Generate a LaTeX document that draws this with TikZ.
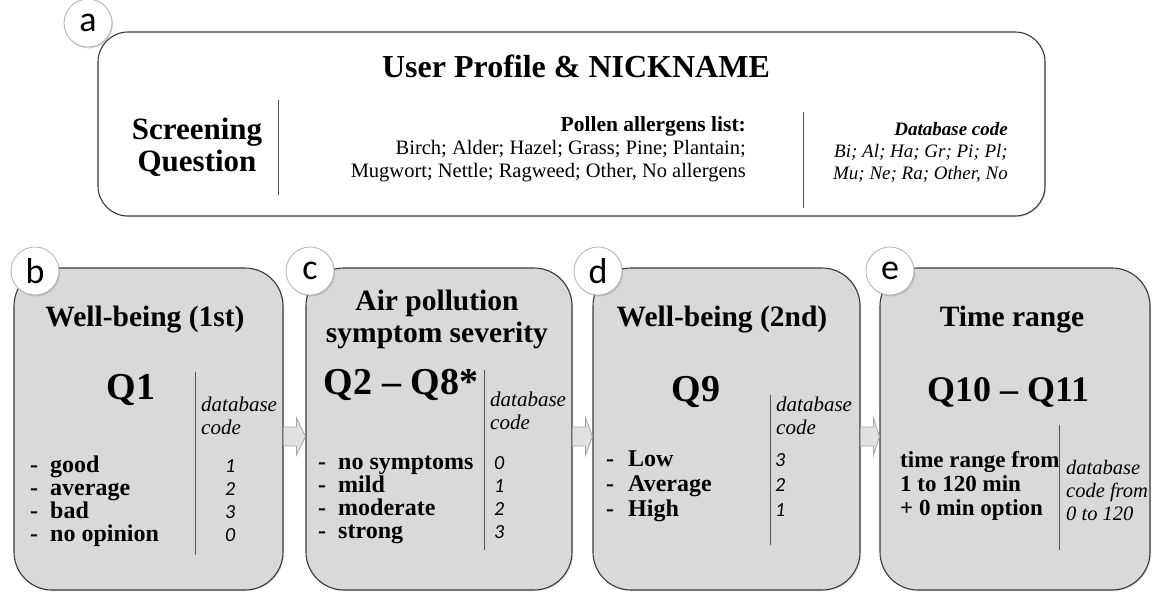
\documentclass[tikz,border=0pt]{standalone}
\usepackage{fontspec}
\setmainfont{Liberation Serif}
\newfontfamily\sansit{Carlito}
\usetikzlibrary{shadows,calc}

\definecolor{grigio}{HTML}{D9D9D9}
\definecolor{bordo}{HTML}{3A3A3A}
\definecolor{bordofr}{HTML}{A5A5A5}
\definecolor{linea}{HTML}{555555}

\newcommand{\fs}[2]{\fontsize{#1}{#2}\selectfont}

\tikzset{
  riquadro/.style={draw=bordo, line width=1.1pt, rounded corners=#1, inner sep=0pt,
    drop shadow={opacity=0.25, shadow xshift=1.2pt, shadow yshift=-1.2pt}},
  cerchio/.style={circle, draw=gray!60, line width=0.8pt, fill=white, minimum size=48pt,
    inner sep=0pt, font=\sansit\fs{36}{36},
    drop shadow={opacity=0.3, shadow xshift=1pt, shadow yshift=-1.5pt}},
  freccia/.style={draw=bordofr, fill=grigio!80, line width=0.8pt, line join=miter},
  sep/.style={draw=linea, line width=1pt},
  titbox/.style={font=\bfseries\fs{29.5}{33}, inner sep=0pt, align=center},
  qbox/.style={font=\bfseries\fs{38}{40}, inner sep=0pt},
  dbbox/.style={font=\itshape\fs{21}{22.5}, align=left, anchor=west, inner sep=0pt},
  voce/.style={font=\bfseries\fs{24}{24}, anchor=base west, inner sep=0pt},
  codice/.style={font=\sansit\itshape\fs{20}{23}, anchor=base west, inner sep=0pt}
}

\begin{document}
\begin{tikzpicture}[x=1pt, y=-1pt]
  \useasboundingbox (0,0) rectangle (1152,592);
  %riquadri
  \node[riquadro=30pt, fill=white, minimum width=947pt, minimum height=184pt] (boxa) at (571.5,124) {};
  \foreach \n/\cx/\w in {b/148.5/269, c/439/266, d/726.5/267, e/1015/270}
    \node[riquadro=38pt, fill=grigio, minimum width=\w pt, minimum height=322pt] (box\n) at (\cx,429) {};
  %cerchi
  \node[cerchio] (ta) at (88,23) {a};
  \node[cerchio] (tb) at (35,271) {b};
  \node[cerchio] (tc) at (310,271) {c};
  \node[cerchio] (td) at (598,271) {d};
  \node[cerchio] (te) at (890,271) {e};
  %frecce
  \foreach \a/\b in {b/c, c/d, d/e} {
    \coordinate (t\a) at ($(box\a.east)+(0,7.5)$);
    \draw[freccia] (t\a) ++(0,-9.5) -- ++(13,0) -- ++(0,-9) -- (t\a -| box\b.west)
      -- ($(t\a)+(13,18.5)$) -- ($(t\a)+(13,9.5)$) -- ($(t\a)+(0,9.5)$) -- cycle;
  }
  %profilo
  \node[font=\bfseries\fs{32}{36}] (titolo) at (576,66) {User Profile \& NICKNAME};
  \node[font=\bfseries\fs{31}{32}, align=center] (screen) at (197,147) {Screening\\Question};
  \draw[sep] (278,100) -- (278,195);
  \node[align=right, anchor=east, inner sep=0pt, font=\fs{20.5}{23}] (pollini) at (746,149)
    {{\bfseries\fs{21.5}{23}Pollen allergens list:}\\Birch; Alder; Hazel; Grass; Pine; Plantain;\\Mugwort; Nettle; Ragweed; Other, No allergens};
  \draw[sep] (803,112) -- (803,208);
  \node[align=right, anchor=east, inner sep=0pt, font=\itshape\fs{19}{22}] (codici) at (1008,152)
    {{\bfseries Database code}\\Bi; Al; Ha; Gr; Pi; Pl;\\Mu; Ne; Ra; Other, No};
  %benessere 1
  \node[titbox] (bt) at (145,320) {Well-being (1st)};
  \node[qbox] (bq) at (131,390) {Q1};
  \draw[sep] (195,372) -- (195,555);
  \node[dbbox] (bdb) at (201,416) {database\\code};
  \foreach \t/\c [count=\i] in {good/1, average/2, bad/3, no opinion/0} {
    \node[voce] (bv\i) at (30,449+23*\i) {\makebox[20pt][l]{-}\t};
    \node[codice] (bc\i) at (225,449+23*\i) {\c};
  }
  %sintomi
  \node[titbox, font=\bfseries\fs{29.5}{32}] (ct) at (437,319) {Air pollution\\symptom severity};
  \node[qbox] (cq) at (401,385) {Q2 -- Q8*};
  \draw[sep] (484,370) -- (484,550);
  \node[dbbox] (cdb) at (490,411) {database\\code};
  \foreach \t/\c [count=\i] in {no symptoms/0, mild/1, moderate/2, strong/3} {
    \node[voce] (cv\i) at (318,446+23*\i) {\makebox[20pt][l]{-}\t};
    \node[codice] (cc\i) at (494,446+23*\i) {\c};
  }
  %benessere 2
  \node[titbox] (dt) at (722,320) {Well-being (2nd)};
  \node[qbox] (dq) at (696,392) {Q9};
  \draw[sep] (770,395) -- (770,545);
  \node[dbbox] (ddb) at (776,416) {database\\code};
  \foreach \t/\c [count=\i] in {Low/3, Average/2, High/1} {
    \node[voce] (dv\i) at (606,441+25*\i) {\makebox[22pt][l]{-}\t};
    \node[codice] (dc\i) at (775,441+25*\i) {\c};
  }
  %tempo
  \node[titbox] (et) at (1012,320) {Time range};
  \node[qbox, font=\bfseries\fs{36}{40}] (eq) at (1008,392) {Q10 -- Q11};
  \draw[sep] (1059,425) -- (1059,550);
  \node[voce, align=left, anchor=west, font=\bfseries\fs{23}{24}] (etxt) at (900,486)
    {time range from\\1 to 120 min\\+ 0 min option};
  \node[dbbox, font=\itshape\fs{20.5}{23}] (edb) at (1066,490) {database\\code from\\0 to 120};
\end{tikzpicture}
\end{document}
